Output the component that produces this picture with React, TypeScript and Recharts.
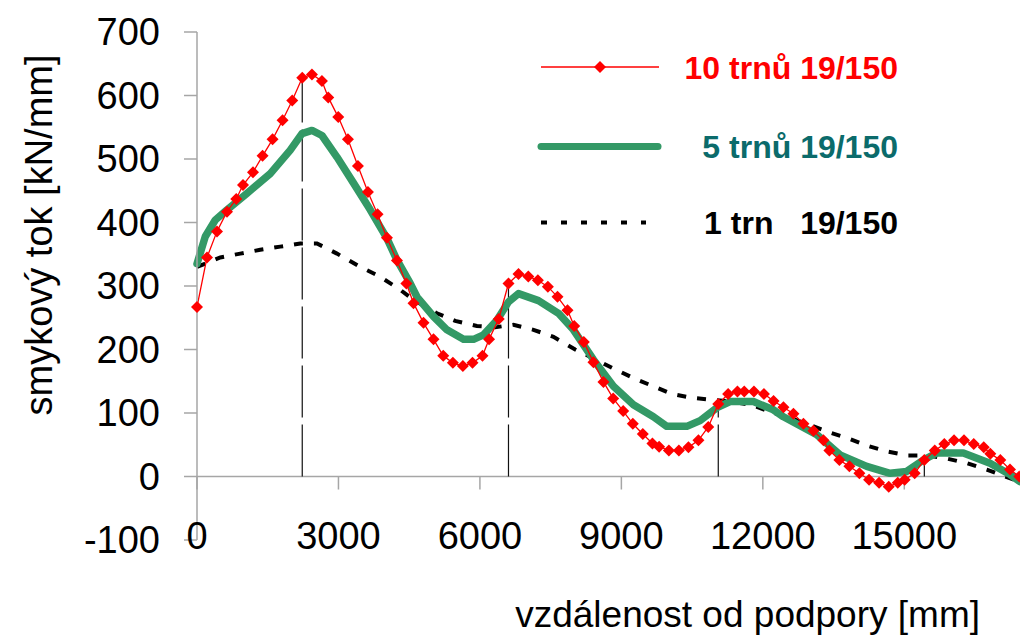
import React from 'react';
import {LineChart, Line, XAxis, YAxis, ReferenceLine} from 'recharts';

// vzdálenost [mm] / smykový tok [kN/mm]
const redX = [0, 212, 424, 636, 833, 975, 1187, 1391, 1603, 1815, 2020, 2232, 2438, 2650, 2784, 2996, 3201, 3413, 3625, 3829, 4028, 4240, 4440, 4592, 4804, 5016, 5222, 5427, 5639, 5843, 6055, 6194, 6400, 6606, 6818, 7027, 7229, 7441, 7645, 7857, 8000, 8204, 8408, 8620, 8826, 9038, 9243, 9455, 9659, 9801, 10007, 10219, 10422, 10634, 10843, 11055, 11264, 11461, 11606, 11812, 12024, 12228, 12437, 12649, 12861, 13073, 13285, 13411, 13623, 13835, 14047, 14253, 14465, 14670, 14861, 15009, 15221, 15425, 15646, 15849, 16055, 16267, 16473, 16685, 16825, 17037, 17242, 17440];
const redY = [267, 345, 386, 417, 437, 459, 479, 505, 531, 561, 592, 628, 633, 623, 597, 566, 531, 489, 448, 413, 376, 340, 304, 273, 242, 216, 190, 179, 174, 179, 190, 216, 248, 304, 319, 315, 309, 299, 283, 262, 237, 212, 180, 149, 123, 103, 83, 67, 52, 47, 41, 41, 46, 57, 78, 114, 130, 134, 134, 134, 130, 119, 109, 99, 83, 72, 57, 41, 26, 16, 5, -5, -10, -16, -10, -5, 5, 26, 41, 51, 57, 57, 51, 46, 36, 26, 11, 0];

const greenX = [0, 176, 388, 636, 1060, 1554, 1978, 2226, 2438, 2650, 2968, 3320, 3674, 4028, 4240, 4522, 4664, 5016, 5300, 5652, 5864, 6076, 6360, 6606, 6818, 7242, 7666, 7984, 8408, 8832, 9256, 9680, 9963, 10388, 10670, 11040, 11306, 11800, 12225, 12437, 13144, 13638, 14204, 14698, 15052, 15404, 15688, 16252, 16818, 17242, 17454];
const greenY = [335, 378, 404, 420, 446, 477, 514, 540, 545, 537, 503, 462, 420, 375, 341, 304, 283, 252, 231, 216, 216, 223, 246, 275, 288, 277, 257, 231, 184, 142, 113, 94, 79, 79, 88, 109, 118, 118, 105, 94, 66, 34, 16, 5, 8, 26, 37, 37, 21, 3, -8];

const blackX = [0, 494, 918, 1342, 1766, 2190, 2544, 2968, 3462, 3850, 4274, 4592, 5088, 5476, 5936, 6324, 6712, 7136, 7560, 8020, 8408, 8832, 9256, 9680, 10070, 10494, 10900, 11320, 11750, 12154, 12578, 13002, 13426, 13850, 14238, 14662, 15086, 15510, 15913, 16324, 16748, 17136, 17454];
const blackY = [330, 345, 351, 357, 362, 367, 367, 351, 330, 316, 296, 278, 257, 245, 237, 235, 239, 231, 220, 200, 186, 170, 155, 142, 130, 124, 121, 118, 113, 102, 92, 81, 69, 59, 48, 39, 33, 33, 28, 21, 11, 0, -8];

const seriesNames = ['10 trnů 19/150', '5 trnů 19/150', '1 trn   19/150'];

// svislé čáry v místech průřezů (na křivce 10 trnů)
const sectionX = [2232, 6606, 11055, 15425];

const xTicks = [0, 3000, 6000, 9000, 12000, 15000];
const yTicks = [-100, 0, 100, 200, 300, 400, 500, 600, 700];

const zip = (xs: number[], ys: number[]) => xs.map((x, i) => ({x, y: ys[i]}));

const redData = zip(redX, redY);
const greenData = zip(greenX, greenY);
const blackData = zip(blackX, blackY);

const FONT = '"Liberation Sans", Arial, sans-serif';
const AXIS_GRAY = '#a6a6a6';
const RED = '#ff0000';
const GREEN = '#339966';

const Diamond = (props: any) => {
    const {cx, cy} = props;
    if (cx == null || cy == null) return null;
    const r = 6;
    return <path d={`M${cx},${cy - r}L${cx + r},${cy}L${cx},${cy + r}L${cx - r},${cy}Z`} fill={RED} />;
};

const XTick = (props: any) => {
    const {x, y, payload} = props;
    return (
        <text x={x} y={y} dy={9} textAnchor="middle" fontSize={38} fill="#000" fontFamily={FONT}>
            {payload.value}
        </text>
    );
};

const XTitle = (props: any) => {
    const vb = props.viewBox;
    return (
        <text x={vb.x + vb.width - 40} y={vb.y + 87} textAnchor="end" fontSize={37} fill="#000" fontFamily={FONT}>
            vzdálenost od podpory [mm]
        </text>
    );
};

const YTitle = () => {
    const cx = 39;
    const cy = 235;
    return (
        <text x={cx} y={cy} transform={`rotate(-90 ${cx} ${cy})`} textAnchor="middle" dominantBaseline="central"
              fontSize={38} fill="#000" fontFamily={FONT}>
            smykový tok [kN/mm]
        </text>
    );
};

const ChartLegend = () => {
    const bold = {fontFamily: FONT, fontWeight: 700, fontSize: 32, whiteSpace: 'pre' as const};
    return (
        <svg width={1020} height={260} style={{position: 'absolute', left: 0, top: 0, pointerEvents: 'none'}}>
            <line x1={541} y1={67} x2={659} y2={67} stroke={RED} strokeWidth={1.3} />
            <Diamond cx={600} cy={67} />
            <text x={898} y={67} dy="0.36em" textAnchor="end" fill={RED} style={bold}>{seriesNames[0]}</text>

            <line x1={541} y1={146.5} x2={658} y2={146.5} stroke={GREEN} strokeWidth={7} strokeLinecap="round" />
            <text x={898} y={146.5} dy="0.36em" textAnchor="end" fill="#0b6b6b" style={bold}>{seriesNames[1]}</text>

            <line x1={541} y1={222.5} x2={646} y2={222.5} stroke="#000" strokeWidth={4} strokeDasharray="6 14" />
            <text x={898} y={222.5} dy="0.36em" textAnchor="end" fill="#000" style={bold}>{seriesNames[2]}</text>
        </svg>
    );
};

const App = () => {
    return (
        <div style={{position: 'absolute', left: 0, top: 0, width: 1020, height: 637, background: '#fff'}}>
            <LineChart width={1020} height={637} margin={{top: 32, right: 0, bottom: 57, left: 0}}
                       style={{fontFamily: FONT}}>
                <XAxis dataKey="x" type="number" domain={[0, 17454]} ticks={xTicks} interval={0}
                       axisLine={false} tickLine={false} tickSize={0} tickMargin={0}
                       height={40} tick={<XTick />} label={<XTitle />} />
                <YAxis type="number" domain={[-100, 700]} ticks={yTicks} interval={0} width={197}
                       tickSize={13} tickMargin={24}
                       axisLine={{stroke: AXIS_GRAY, strokeWidth: 1.5}}
                       tickLine={{stroke: AXIS_GRAY, strokeWidth: 1.5}}
                       tick={{fill: '#000', fontSize: 38, fontFamily: FONT}}
                       label={<YTitle />} />

                <ReferenceLine y={0} stroke={AXIS_GRAY} strokeWidth={1.5} />
                {xTicks.map(t => (
                    <ReferenceLine key={'t' + t} segment={[{x: t, y: 0}, {x: t, y: -20.5}]}
                                   stroke={AXIS_GRAY} strokeWidth={1.5} />
                ))}
                {sectionX.map(sx => (
                    <ReferenceLine key={'s' + sx} segment={[{x: sx, y: 0}, {x: sx, y: redY[redX.indexOf(sx)]}]}
                                   stroke="#111" strokeWidth={1.2} strokeDasharray="52 7" />
                ))}

                <Line data={blackData} dataKey="y" name={seriesNames[2]} type="linear" stroke="#000"
                      strokeWidth={4} strokeDasharray="9 11" dot={false} isAnimationActive={false} />
                <Line data={greenData} dataKey="y" name={seriesNames[1]} type="linear" stroke={GREEN}
                      strokeWidth={7.5} strokeLinejoin="round" strokeLinecap="round" dot={false}
                      isAnimationActive={false} />
                <Line data={redData} dataKey="y" name={seriesNames[0]} type="linear" stroke={RED}
                      strokeWidth={1.3} dot={<Diamond />} isAnimationActive={false} />
            </LineChart>
            <ChartLegend />
        </div>
    );
};

export default App;
